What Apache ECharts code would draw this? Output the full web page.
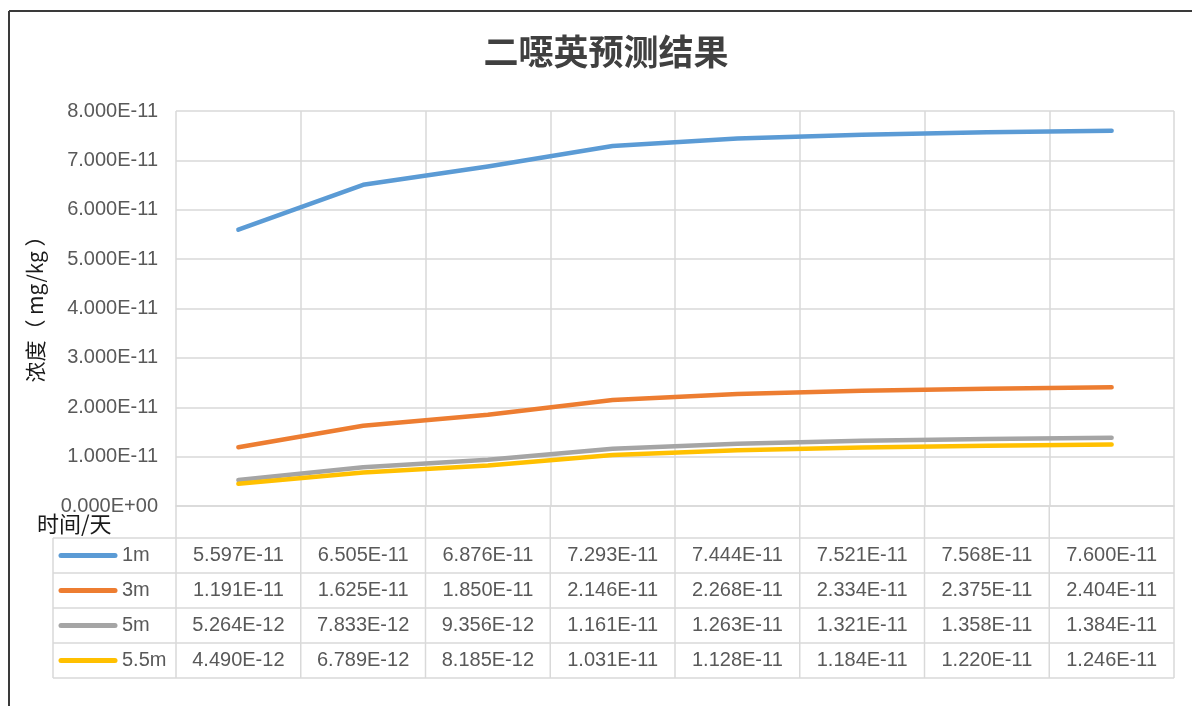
<!DOCTYPE html>
<html>
<head>
<meta charset="utf-8">
<script src="https://cdn.jsdelivr.net/npm/echarts@6/dist/echarts.min.js"></script>
<style>
  html, body { margin: 0; padding: 0; background: #fff; }
  #chart { width: 1192px; height: 706px; }
</style>
</head>
<body>
<div id="chart"></div>
<script>
// 二噁英预测结果 — 折线图 + 底部数据表

const categories = ['', '', '', '', '', '', '', ''];
const seriesNames = ['1m', '3m', '5m', '5.5m'];
const s1m  = [5.597e-11, 6.505e-11, 6.876e-11, 7.293e-11, 7.444e-11, 7.521e-11, 7.568e-11, 7.600e-11];
const s3m  = [1.191e-11, 1.625e-11, 1.850e-11, 2.146e-11, 2.268e-11, 2.334e-11, 2.375e-11, 2.404e-11];
const s5m  = [5.264e-12, 7.833e-12, 9.356e-12, 1.161e-11, 1.263e-11, 1.321e-11, 1.358e-11, 1.384e-11];
const s55m = [4.490e-12, 6.789e-12, 8.185e-12, 1.031e-11, 1.128e-11, 1.184e-11, 1.220e-11, 1.246e-11];
const seriesData = [s1m, s3m, s5m, s55m];
const colors = ['#5B9BD5', '#ED7D31', '#A5A5A5', '#FFC000'];

// 科学计数法，Excel 风格 0.000E+00
function sci(v) {
  if (Math.abs(v) < 1e-20) return '0.000E+00';
  const parts = v.toExponential(3).split('e');
  const n = parseInt(parts[1], 10);
  return parts[0] + 'E' + (n < 0 ? '-' : '+') + String(Math.abs(n)).padStart(2, '0');
}

// 版面
const W = 1192, H = 706;
const L = 176, R = 1174, TOP = 111, BOT = 506;
const colW = (R - L) / categories.length;
const tableTop = 538, rowH = 35, legendL = 53;
const gridColor = '#D9D9D9';
const textColor = '#595959';
const fontFam = '"Liberation Sans", Arial, sans-serif';
const fontSize = 20;

const graphics = [];

// 外框
graphics.push({ type: 'line', shape: { x1: 9, y1: 11, x2: W, y2: 11 }, style: { stroke: '#3a3a3a', lineWidth: 2 } });
graphics.push({ type: 'line', shape: { x1: 9, y1: 11, x2: 9, y2: H }, style: { stroke: '#3a3a3a', lineWidth: 2 } });

// 标题
graphics.push({ type: 'text', x: 606, y: 52, style: { text: '二噁英预测结果', fill: '#404040', font: 'bold 35px "Noto Sans CJK SC", sans-serif', align: 'center', verticalAlign: 'middle' } });

// 表格线
const nRows = seriesNames.length;
const tableBot = tableTop + rowH * nRows;
for (let k = 0; k <= nRows; k++) {
  const y = tableTop + rowH * k;
  graphics.push({ type: 'line', shape: { x1: legendL, y1: y, x2: R, y2: y }, style: { stroke: gridColor, lineWidth: 1.5 } });
}
for (let i = 0; i <= categories.length; i++) {
  const x = L + colW * i;
  graphics.push({ type: 'line', shape: { x1: x, y1: BOT, x2: x, y2: tableBot }, style: { stroke: gridColor, lineWidth: 1.5 } });
}
graphics.push({ type: 'line', shape: { x1: legendL, y1: tableTop, x2: legendL, y2: tableBot }, style: { stroke: gridColor, lineWidth: 1.5 } });

// 图例 + 数值
seriesNames.forEach((name, k) => {
  const cy = tableTop + rowH * k + rowH / 2;
  graphics.push({ type: 'line', shape: { x1: 61, y1: cy, x2: 115, y2: cy }, style: { stroke: colors[k], lineWidth: 5, lineCap: 'round' } });
  graphics.push({ type: 'text', x: 122, y: cy, style: { text: name, fill: textColor, font: fontSize + 'px ' + fontFam, verticalAlign: 'middle', align: 'left' } });
  seriesData[k].forEach((v, i) => {
    graphics.push({ type: 'text', x: L + colW * (i + 0.5), y: cy, style: { text: sci(v), fill: textColor, font: fontSize + 'px ' + fontFam, verticalAlign: 'middle', align: 'center' } });
  });
});

// 轴标题
graphics.push({ type: 'text', x: 35, y: 304, rotation: Math.PI / 2, style: { text: '浓度（ mg/kg ）', fill: '#1a1a1a', font: '21px "Noto Sans CJK SC", sans-serif', align: 'center', verticalAlign: 'middle' } });
graphics.push({ type: 'text', x: 37, y: 524, style: { text: '时间/天', fill: '#1a1a1a', font: '22px "Noto Sans CJK SC", sans-serif', align: 'left', verticalAlign: 'middle' } });

const chart = echarts.init(document.getElementById('chart'));
chart.setOption({
  animation: false,
  backgroundColor: '#fff',
  grid: { left: L, right: W - R, top: TOP, bottom: H - BOT },
  xAxis: {
    type: 'category',
    data: categories,
    boundaryGap: true,
    axisLine: { show: true, lineStyle: { color: gridColor, width: 1.5 } },
    axisTick: { show: false },
    axisLabel: { show: false },
    splitLine: { show: true, lineStyle: { color: gridColor, width: 1.5 } },
  },
  yAxis: {
    type: 'value',
    min: 0,
    max: 8e-11,
    interval: 1e-11,
    axisLine: { show: false },
    axisTick: { show: false },
    axisLabel: { formatter: sci, color: textColor, fontSize: fontSize, fontFamily: fontFam, margin: 18 },
    splitLine: { lineStyle: { color: gridColor, width: 1.5 } },
  },
  series: seriesNames.map((name, k) => ({
    name: name,
    type: 'line',
    data: seriesData[k],
    showSymbol: false,
    symbol: 'none',
    lineStyle: { color: colors[k], width: 4.5, cap: 'round', join: 'round' },
    itemStyle: { color: colors[k] },
    z: 3 + k,
  })),
  graphic: graphics,
});
</script>
</body>
</html>
